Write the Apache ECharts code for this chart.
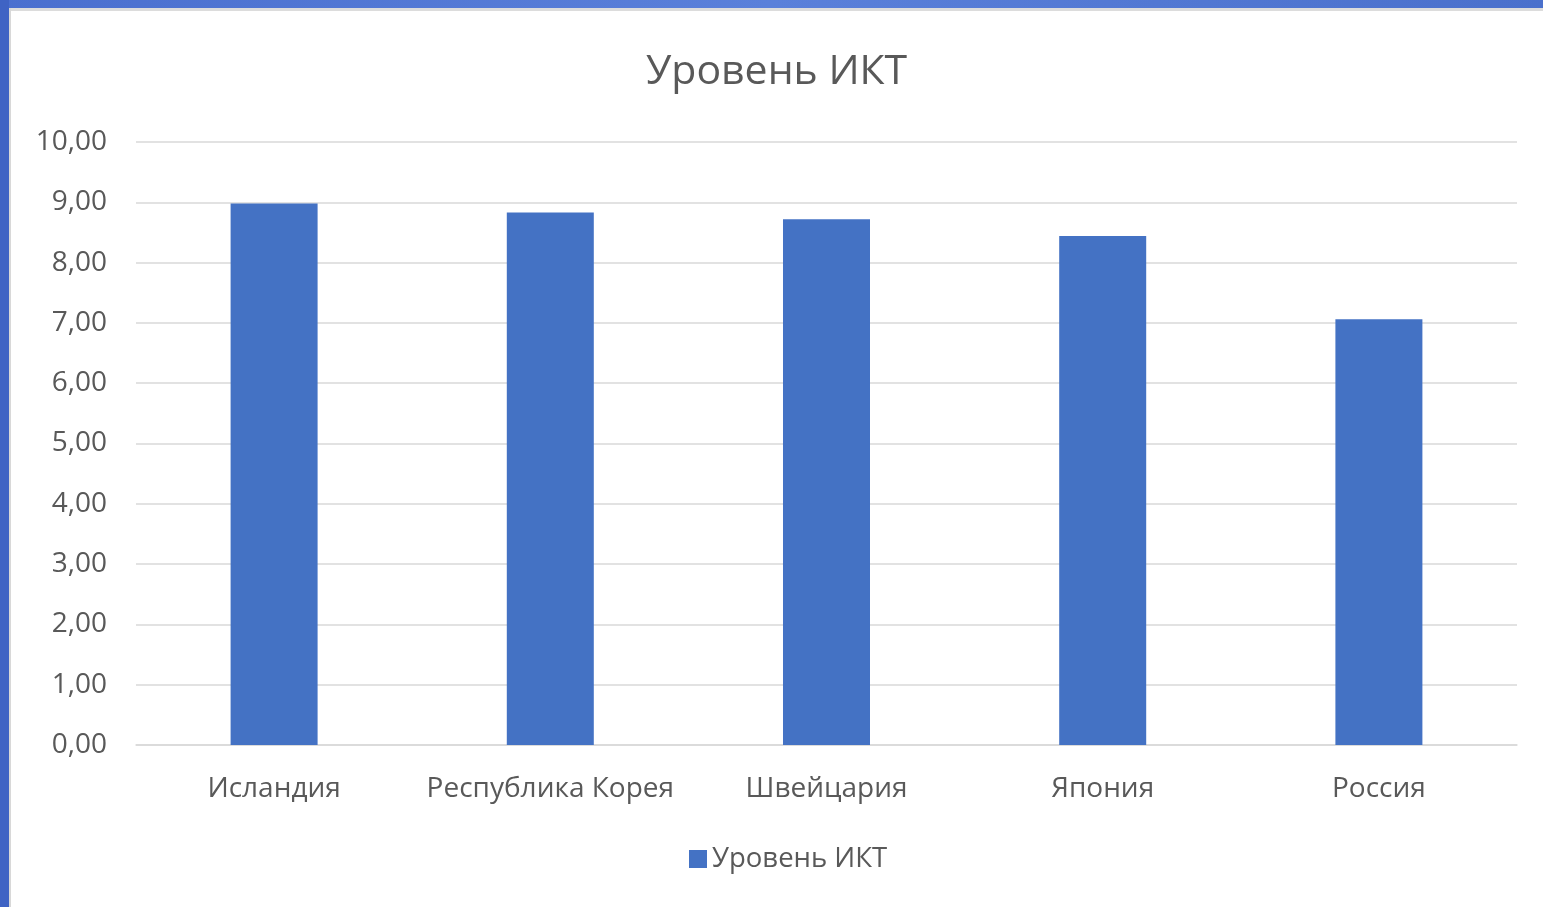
<!DOCTYPE html>
<html>
<head>
<meta charset="utf-8">
<script src="https://cdn.jsdelivr.net/npm/echarts@6/dist/echarts.min.js"></script>
<style>
html,body{margin:0;padding:0;background:#fff;}
#frameTop{position:absolute;left:0;top:0;width:1543px;height:8px;background:linear-gradient(90deg,#4a6fcf,#5a80da 50%,#4a70cc);}
#frameTopShade{position:absolute;left:9px;top:8px;width:1534px;height:3px;background:#dcdcdc;}
#frameLeft{position:absolute;left:0;top:0;width:9px;height:907px;background:#3f63c4;}
#frameLeftShade{position:absolute;left:9px;top:8px;width:2px;height:899px;background:#d8d8d8;}
#chart{position:absolute;left:0;top:0;width:1543px;height:907px;}
</style>
</head>
<body>
<div id="frameTop"></div>
<div id="frameTopShade"></div>
<div id="frameLeft"></div>
<div id="frameLeftShade"></div>
<div id="chart"></div>
<script>
const titleText = "Уровень ИКТ";
const seriesName = "Уровень ИКТ";
const categories = ["Исландия", "Республика Корея", "Швейцария", "Япония", "Россия"];
const values = [8.98, 8.83, 8.72, 8.44, 7.06];
const yMin = 0, yMax = 10, yStep = 1;

const font = "'Open Sans', 'Noto Sans', sans-serif";
const chart = echarts.init(document.getElementById('chart'), null, {renderer: 'canvas'});
chart.setOption({
  backgroundColor: 'transparent',
  animation: false,
  title: {
    text: titleText,
    left: 646,
    top: 52,
    padding: 0,
    textStyle: {fontFamily: font, fontSize: 41, fontWeight: 'normal', color: '#595959'}
  },
  legend: {
    data: [seriesName],
    bottom: 29,
    left: 684,
    icon: 'rect',
    itemWidth: 18,
    itemHeight: 18,
    itemGap: 6,
    textStyle: {fontFamily: font, fontSize: 27.5, color: '#595959'}
  },
  grid: {left: 136, right: 26, top: 142, bottom: 162, containLabel: false},
  xAxis: {
    type: 'category',
    data: categories,
    axisLine: {show: true, lineStyle: {color: '#d9d9d9', width: 1.5}},
    axisTick: {show: false},
    axisLabel: {fontFamily: font, fontSize: 28, color: '#595959', margin: 30, interval: 0}
  },
  yAxis: {
    type: 'value',
    min: yMin, max: yMax, interval: yStep,
    axisLine: {show: false},
    axisTick: {show: false},
    splitLine: {lineStyle: {color: '#d9d9d9', width: 1.5}},
    axisLabel: {
      fontFamily: font, fontSize: 28, color: '#595959', margin: 29,
      formatter: v => v.toFixed(2).replace('.', ',')
    }
  },
  series: [{
    name: seriesName,
    type: 'bar',
    data: values,
    barWidth: '31.5%',
    itemStyle: {color: '#4472C4'}
  }]
});
</script>
</body>
</html>
